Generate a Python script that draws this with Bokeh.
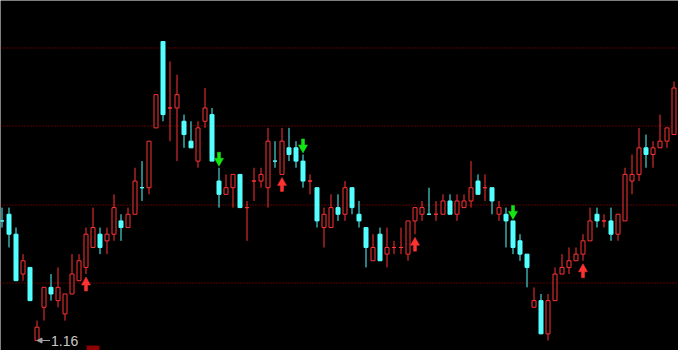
from bokeh.plotting import figure
from bokeh.models import Range1d, ColumnDataSource, Arrow, NormalHead
from bokeh.embed import file_html
from bokeh.resources import INLINE
from bokeh.core.properties import value

# ---- data (daily OHLC) ----
opens = [1.34, 1.35, 1.32, 1.26, 1.27, 1.16, 1.21, 1.24, 1.22, 1.20,
         1.23, 1.25, 1.27, 1.30, 1.32, 1.31, 1.32, 1.34, 1.33, 1.35,
         1.39, 1.39, 1.48, 1.61, 1.51, 1.51, 1.49, 1.46, 1.43, 1.49,
         1.50, 1.40, 1.38, 1.39, 1.41, 1.36, 1.40, 1.40, 1.39, 1.43,
         1.41, 1.45, 1.45, 1.43, 1.40, 1.39, 1.33, 1.33, 1.36, 1.35,
         1.39, 1.35, 1.33, 1.28, 1.32, 1.29, 1.30, 1.30, 1.29, 1.34,
         1.35, 1.35, 1.35, 1.35, 1.37, 1.35, 1.36, 1.37, 1.40, 1.39,
         1.39, 1.35, 1.35, 1.34, 1.31, 1.29, 1.21, 1.22, 1.17, 1.22,
         1.26, 1.27, 1.28, 1.29, 1.31, 1.35, 1.34, 1.34, 1.32, 1.34,
         1.40, 1.41, 1.45, 1.44, 1.45, 1.46, 1.47]
highs = [1.36, 1.36, 1.33, 1.29, 1.27, 1.19, 1.24, 1.26, 1.27, 1.23,
         1.29, 1.29, 1.33, 1.36, 1.33, 1.33, 1.38, 1.35, 1.36, 1.42,
         1.43, 1.46, 1.53, 1.61, 1.58, 1.56, 1.50, 1.49, 1.49, 1.54,
         1.51, 1.42, 1.41, 1.41, 1.41, 1.37, 1.42, 1.42, 1.48, 1.46,
         1.48, 1.48, 1.46, 1.44, 1.41, 1.39, 1.36, 1.38, 1.38, 1.40,
         1.39, 1.37, 1.33, 1.32, 1.33, 1.33, 1.31, 1.33, 1.34, 1.36,
         1.37, 1.39, 1.37, 1.38, 1.38, 1.38, 1.38, 1.43, 1.41, 1.41,
         1.39, 1.37, 1.36, 1.34, 1.32, 1.29, 1.24, 1.23, 1.23, 1.27,
         1.29, 1.30, 1.30, 1.32, 1.36, 1.36, 1.35, 1.36, 1.35, 1.42,
         1.44, 1.48, 1.47, 1.46, 1.50, 1.48, 1.55]
lows = [1.33, 1.30, 1.25, 1.25, 1.22, 1.16, 1.19, 1.22, 1.21, 1.19,
        1.23, 1.25, 1.26, 1.30, 1.29, 1.29, 1.31, 1.31, 1.33, 1.35,
        1.37, 1.38, 1.48, 1.49, 1.46, 1.43, 1.45, 1.45, 1.42, 1.48,
        1.43, 1.36, 1.38, 1.36, 1.36, 1.31, 1.37, 1.39, 1.36, 1.42,
        1.41, 1.43, 1.42, 1.39, 1.38, 1.33, 1.30, 1.33, 1.34, 1.34,
        1.35, 1.33, 1.27, 1.28, 1.28, 1.27, 1.29, 1.29, 1.28, 1.32,
        1.34, 1.35, 1.34, 1.35, 1.35, 1.34, 1.36, 1.36, 1.38, 1.37,
        1.35, 1.34, 1.30, 1.29, 1.28, 1.24, 1.21, 1.17, 1.16, 1.22,
        1.26, 1.26, 1.28, 1.28, 1.31, 1.33, 1.33, 1.31, 1.31, 1.34,
        1.38, 1.40, 1.42, 1.42, 1.45, 1.45, 1.47]
closes = [1.34, 1.32, 1.25, 1.28, 1.22, 1.18, 1.24, 1.23, 1.24, 1.23,
          1.26, 1.28, 1.32, 1.33, 1.30, 1.32, 1.36, 1.33, 1.35, 1.40,
          1.39, 1.46, 1.53, 1.50, 1.51, 1.53, 1.47, 1.45, 1.48, 1.51,
          1.43, 1.38, 1.39, 1.41, 1.36, 1.36, 1.40, 1.41, 1.46, 1.43,
          1.46, 1.44, 1.43, 1.40, 1.40, 1.34, 1.35, 1.36, 1.35, 1.39,
          1.36, 1.34, 1.30, 1.30, 1.28, 1.30, 1.30, 1.30, 1.34, 1.36,
          1.36, 1.35, 1.35, 1.37, 1.35, 1.37, 1.37, 1.39, 1.38, 1.39,
          1.37, 1.36, 1.34, 1.30, 1.29, 1.27, 1.22, 1.17, 1.22, 1.26,
          1.27, 1.28, 1.29, 1.31, 1.34, 1.34, 1.34, 1.32, 1.35, 1.41,
          1.41, 1.45, 1.44, 1.45, 1.46, 1.48, 1.54]
prev_close = 1.35          # close of the day before the first visible candle
up_signals = [12, 40, 59, 83]     # buy arrows (below candle)
down_signals = [31, 43, 73]       # sell arrows (above candle)
grid_levels = [1.2465, 1.3639, 1.4829, 1.6003]
event_index = 13

# ---- styles / geometry ----
W, H = 678, 350
STEP = 7.0                 # px per candle
PXY = 664.4                # px per 1.00 of price
UP = "#FF3232"
DOWN = "#54FFFF"
GRID = "#B00000"
SELL = "#14E614"

n = len(opens)
xs = list(range(n))
pcs = [prev_close] + closes[:-1]
colors, fills = [], []
for o, c, pc in zip(opens, closes, pcs):
    if round(c, 2) > round(o, 2):
        colors.append(UP); fills.append("#000000")
    elif round(c, 2) < round(o, 2):
        colors.append(DOWN); fills.append(DOWN)
    else:
        col = UP if round(c, 2) >= round(pc, 2) else DOWN
        colors.append(col); fills.append(col)

half = 2.0 / STEP
src = ColumnDataSource(dict(
    x=xs, h=highs, l=lows,
    left=[x - half for x in xs], right=[x + half for x in xs],
    top=[max(o, c) for o, c in zip(opens, closes)],
    bottom=[min(o, c) for o, c in zip(opens, closes)],
    color=colors, fill=fills))

lo_min = min(lows)
y0 = lo_min - 10 / PXY
y1 = lo_min + 340 / PXY
x0 = -1.5 / STEP
p = figure(width=W, height=H, x_range=Range1d(x0, x0 + W / STEP),
           y_range=Range1d(y0, y1), x_axis_type=None, y_axis_type=None,
           toolbar_location=None, output_backend="svg", min_border=0,
           background_fill_color="#000000", border_fill_color="#000000",
           outline_line_color=None)
p.xgrid.visible = False
p.ygrid.visible = False

for g in grid_levels:
    p.line([x0, x0 + W / STEP], [g, g], line_color=GRID, line_width=1,
           line_dash="1 2")

p.segment(x0="x", y0="h", x1="x", y1="l", color="color", line_width=1, source=src)
p.quad(left="left", right="right", top="top", bottom="bottom",
       fill_color="fill", line_color="color", line_width=1, source=src)

# signal arrows
SHAPE = [(0, 0), (4.5, 8), (1.5, 8), (1.5, 14), (-1.5, 14), (-1.5, 8), (-4.5, 8)]

def up_arrow(k):
    ay = lows[k] - 3 / PXY
    return [k + dx / STEP for dx, dy in SHAPE], [ay - dy / PXY for dx, dy in SHAPE]

def down_arrow(k):
    ay = highs[k] + 1.5 / PXY
    return [k + dx / STEP for dx, dy in SHAPE], [ay + dy / PXY for dx, dy in SHAPE]

ux, uy = zip(*[up_arrow(k) for k in up_signals])
p.patches(list(ux), list(uy), fill_color=UP, line_color=UP, line_width=0.5)
dx_, dy_ = zip(*[down_arrow(k) for k in down_signals])
p.patches(list(dx_), list(dy_), fill_color=SELL, line_color=SELL, line_width=0.5)

# lowest-price marker
kmin = lows.index(lo_min)
p.add_layout(Arrow(end=NormalHead(size=5, fill_color="#A0A0A0", line_color="#A0A0A0"),
                   x_start=kmin + 13 / STEP, y_start=lo_min,
                   x_end=kmin, y_end=lo_min, line_color="#A0A0A0", line_width=1))
p.text(x=[kmin + 14 / STEP], y=[lo_min], text=[f"{lo_min:.2f}"],
       text_color="#C8C8C8", text_font=value("Liberation Sans"),
       text_font_size="14px", text_baseline="middle", text_align="left")

# event tag at bottom
p.quad(left=[event_index - 6.5 / STEP], right=[event_index + 6.5 / STEP],
       top=[y0 + 5 / PXY], bottom=[y0 - 8 / PXY], fill_color="#8B0000",
       line_color=None)

open("out.html", "w").write(file_html(p, INLINE))
